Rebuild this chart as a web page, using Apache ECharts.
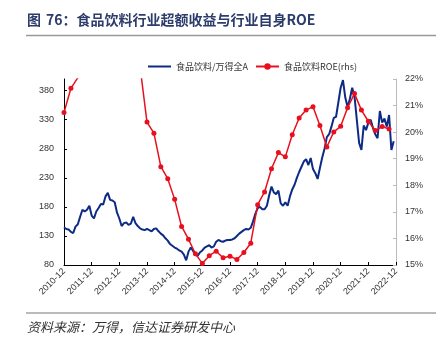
<!DOCTYPE html>
<html><head><meta charset="utf-8">
<script src="https://cdn.jsdelivr.net/npm/echarts@6/dist/echarts.min.js"></script>
<style>html,body{margin:0;padding:0;background:#fff}#c{width:448px;height:341px}</style>
</head><body><div id="c"></div>
<script>
// Monthly categories 2010-12 .. 2022-12
const startYear = 2010, startMonth = 12, monthCount = 145;
const months = [];
for (let i = 0; i < monthCount; i++) {
  const t = (startYear * 12 + startMonth - 1) + i;
  const y = Math.floor(t / 12), m = t % 12 + 1;
  months.push(y + '-' + (m < 10 ? '0' + m : m));
}
// 食品饮料/万得全A (left axis), monthly from 2010-12
const relValues = [
  145,142,141,137,135,146,150,163,175,172,175,182,
  165,160,172,178,185,184,198,204,192,191,188,170,
  160,147,152,153,149,151,163,152,147,143,141,140,
  142,140,138,142,143,138,134,131,126,122,116,113,
  110,108,105,103,98,88,103,110,104,97,96,102,
  105,110,112,114,110,112,120,123,121,120,122,123,
  123,124,126,130,134,137,140,142,141,144,155,168,
  178,180,176,176,182,200,215,205,202,208,186,182,
  188,182,198,210,218,230,240,249,258,262,252,264,
  245,238,228,247,265,280,300,305,318,333,335,360,
  385,398,368,352,366,385,370,330,290,278,320,312,
  325,330,316,305,298,345,325,332,318,338,278,293
];
// 食品饮料ROE (right axis, %), quarterly
const roeQuarters = [
  '2010-12','2011-03','2011-06','2011-09','2011-12','2012-03','2012-06','2012-09',
  '2012-12','2013-03','2013-06','2013-09','2013-12','2014-03','2014-06','2014-09',
  '2014-12','2015-03','2015-06','2015-09','2015-12','2016-03','2016-06','2016-09',
  '2016-12','2017-03','2017-06','2017-09','2017-12','2018-03','2018-06','2018-09',
  '2018-12','2019-03','2019-06','2019-09','2019-12','2020-03','2020-06','2020-09',
  '2020-12','2021-03','2021-06','2021-09','2021-12','2022-03','2022-06','2022-09'
];
const roeValues = [
  20.74,21.65,22.05,22.6,23.0,23.6,24.0,24.3,
  24.5,24.0,23.3,22.45,20.38,19.96,18.70,18.25,
  17.47,16.45,15.97,15.42,15.06,15.35,15.52,15.27,
  15.33,15.21,15.47,15.82,17.27,17.75,18.62,19.23,
  19.07,19.90,20.53,20.83,20.96,20.25,19.44,20.01,
  20.22,20.92,21.45,20.83,20.41,20.06,20.21,20.12
];
const leftTicks = [80,130,180,230,280,330,380];
const seriesNames = ['食品饮料/万得全A','食品饮料ROE(rhs)'];

const chart = echarts.init(document.getElementById('c'), null, {renderer:'canvas'});
const axisFont = {fontFamily:'Liberation Sans, Arial, sans-serif', fontSize:9, color:'#333'};
const titleFont = 'bold 14px "Noto Sans CJK SC"';
chart.setOption({
  animation:false,
  graphic:[
    {type:'text', x:27, y:20, style:{text:'图', font:titleFont, fill:'#2c3c6b', verticalAlign:'middle'}},
    {type:'text', x:46, y:20, style:{text:'76：', font:titleFont, fill:'#2c3c6b', verticalAlign:'middle'}},
    {type:'text', x:76.5, y:20, style:{text:'食品饮料行业超额收益与行业自身ROE', font:titleFont, fill:'#2c3c6b', verticalAlign:'middle'}},
    {type:'line', shape:{x1:26,y1:35.5,x2:436,y2:35.5}, style:{stroke:'#999',lineWidth:1.5}},
    {type:'line', shape:{x1:26,y1:313,x2:436,y2:313}, style:{stroke:'#777',lineWidth:1}},
    {type:'text', x:27, y:327, style:{text:'资料来源：万得，信达证券研发中心', font:'italic 13px "Noto Sans CJK SC"', fill:'#333', verticalAlign:'middle'}}
  ],
  legend:{
    left:142, top:57, itemWidth:23, itemHeight:8, itemGap:7,
    textStyle:{fontFamily:'Noto Sans CJK SC', fontSize:9, color:'#333'},
    data:[{name:seriesNames[0], itemStyle:{opacity:0}}, {name:seriesNames[1]}]
  },
  grid:{left:64, right:52, top:79, bottom:76, containLabel:false},
  xAxis:{
    type:'category', data:months, boundaryGap:false,
    axisLine:{lineStyle:{color:'#000',width:1}},
    axisTick:{inside:true, length:3, interval:(i)=>i%12===0, lineStyle:{color:'#000'}},
    axisLabel:{interval:(i)=>i%12===0, rotate:45, ...axisFont, margin:5}
  },
  yAxis:[
    {type:'value', min:80, max:400, position:'left',
     axisLine:{show:true, lineStyle:{color:'#000'}},
     axisTick:{show:true, inside:true, length:3, customValues:leftTicks, lineStyle:{color:'#000'}},
     axisLabel:{customValues:leftTicks, ...axisFont, margin:10},
     splitLine:{show:false}},
    {type:'value', min:15, max:22, interval:1, position:'right',
     axisLine:{show:true, lineStyle:{color:'#bbb'}},
     axisTick:{show:true, inside:true, length:3, lineStyle:{color:'#bbb'}},
     axisLabel:{formatter:'{value}%', ...axisFont, margin:9},
     splitLine:{show:false}}
  ],
  series:[
    {name:seriesNames[0], type:'line', yAxisIndex:0, data:relValues, symbol:'none',
     lineStyle:{color:'#0d2b85', width:2}, itemStyle:{color:'#0d2b85'}, clip:true, z:2},
    {name:seriesNames[1], type:'line', yAxisIndex:1,
     data:roeQuarters.map((q,i)=>[q, roeValues[i]]),
     symbol:'circle', symbolSize:5, showSymbol:true, showAllSymbol:true,
     lineStyle:{color:'#e8101e', width:1.5}, itemStyle:{color:'#e8101e'}, clip:true, z:3}
  ]
});
</script></body></html>
